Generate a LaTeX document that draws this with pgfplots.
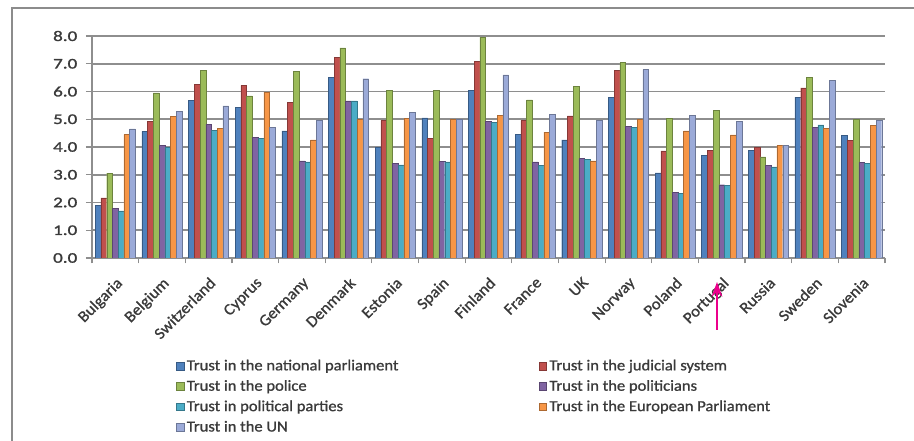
\documentclass[border=0pt]{standalone}
\usepackage{pgfplots}
\pgfplotsset{compat=1.18}
\usepackage{pgfplotstable}
\usepackage{fontspec}
\usetikzlibrary{arrows.meta}
\setmainfont{Carlito}
\newfontfamily\tickfont[FakeStretch=1.3,FakeBold=1.5]{Carlito}
\newfontfamily\labfont[FakeStretch=1.05,FakeBold=1]{Carlito}
\newfontfamily\legfont[FakeStretch=1.08,FakeBold=1]{Carlito}
\definecolor{c1}{HTML}{4F81BD}
\definecolor{c2}{HTML}{C0504D}
\definecolor{c3}{HTML}{9BBB59}
\definecolor{c4}{HTML}{8064A2}
\definecolor{c5}{HTML}{4BACC6}
\definecolor{c6}{HTML}{F79646}
\definecolor{c7}{HTML}{9BAAD8}
\definecolor{gridc}{HTML}{8E8E8E}
\definecolor{txt}{HTML}{3A3A3A}
\pgfplotstableread{
x  parl jud  pol  polit part ep   un
0  1.90 2.17 3.06 1.80 1.70 4.45 4.65
1  4.56 4.92 5.95 4.06 4.00 5.10 5.29
2  5.69 6.25 6.76 4.82 4.59 4.68 5.48
3  5.42 6.22 5.84 4.36 4.30 5.98 4.72
4  4.58 5.62 6.73 3.50 3.46 4.26 4.96
5  6.52 7.24 7.57 5.66 5.66 5.00 6.46
6  4.00 4.96 6.04 3.40 3.36 5.02 5.26
7  5.05 4.30 6.04 3.48 3.46 5.00 5.00
8  6.04 7.09 7.96 4.92 4.90 5.14 6.60
9  4.46 4.96 5.70 3.46 3.34 4.54 5.17
10 4.26 5.12 6.19 3.58 3.56 3.50 4.96
11 5.80 6.76 7.04 4.74 4.72 5.00 6.79
12 3.07 3.86 5.04 2.36 2.34 4.58 5.14
13 3.70 3.88 5.32 2.64 2.62 4.44 4.92
14 3.88 4.00 3.64 3.34 3.28 4.06 4.06
15 5.80 6.13 6.52 4.72 4.80 4.66 6.40
16 4.42 4.24 5.00 3.44 3.42 4.78 4.96
}\datatable
\begin{document}
\begin{tikzpicture}
\useasboundingbox (0pt,0pt) rectangle (685.5pt,-330.75pt);
% outer chart frame (left and top edges visible)
\draw[black!45, line width=1.2pt] (9pt,-340pt) -- (9pt,-6pt) -- (690pt,-6pt);
\begin{axis}[
  at={(69pt,-193.5pt)}, anchor=south west,
  scale only axis, width=594.75pt, height=166.5pt,
  ybar=0pt, bar width=4.3pt,
  xmin=-0.5, xmax=16.5, ymin=0, ymax=8,
  axis x line*=bottom, axis y line*=left,
  axis line style={gridc, line width=1.1pt},
  ymajorgrids, grid style={gridc, line width=1.4pt},
  ytick={0,1,...,8},
  /pgf/number format/fixed,
  /pgf/number format/fixed zerofill,
  /pgf/number format/precision=1,
  /pgf/number format/assume math mode=true,
  yticklabel style={font=\fontsize{11}{12}\tickfont, text=txt, xshift=-3pt},
  tick align=outside,
  ytick style={gridc, line width=0.9pt},
  major tick length=4.5pt,
  xtick={0,...,16},
  major x tick style={draw=none},
  minor xtick={-0.5,0.5,...,16.5},
  minor x tick style={gridc, line width=0.9pt},
  minor tick length=4pt,
  xticklabels={Bulgaria,Belgium,Switzerland,Cyprus,Germany,Denmark,Estonia,Spain,Finland,France,UK,Norway,Poland,Portugal,Russia,Sweden,Slovenia},
  xticklabel style={yshift=-7.5pt, rotate=45, anchor=north east, font=\fontsize{12}{14}\labfont, text=txt, inner sep=1pt},
  legend columns=2,
  legend cell align=left,
  legend style={at={(0.106,-0.445)}, anchor=north west, draw=none, fill=none,
    font=\fontsize{11.5}{13}\legfont, text=txt, row sep=1.8pt, inner sep=0pt},
  legend image code/.code={\fill[#1] (0pt,-2.8pt) rectangle (5.6pt,2.8pt);},
  every axis plot/.append style={line width=0.3pt},
]
\addplot[fill=c1, draw=c1!70!black] table[x=x, y=parl] {\datatable};
\addlegendentry{\makebox[262pt][l]{Trust in the national parliament}}
\addplot[fill=c2, draw=c2!70!black] table[x=x, y=jud] {\datatable};
\addlegendentry{Trust in the judicial system}
\addplot[fill=c3, draw=c3!70!black] table[x=x, y=pol] {\datatable};
\addlegendentry{Trust in the police}
\addplot[fill=c4, draw=c4!70!black] table[x=x, y=polit] {\datatable};
\addlegendentry{Trust in the politicians}
\addplot[fill=c5, draw=c5!70!black] table[x=x, y=part] {\datatable};
\addlegendentry{Trust in political parties}
\addplot[fill=c6, draw=c6!70!black] table[x=x, y=ep] {\datatable};
\addlegendentry{Trust in the European Parliament}
\addplot[fill=c7, draw=c7!70!black] table[x=x, y=un] {\datatable};
\addlegendentry{Trust in the UN}
\end{axis}
% magenta annotation arrow
\draw[magenta, line width=1.6pt, -{Stealth[length=11pt,width=8pt]}] (537.75pt,-247.5pt) -- (537.75pt,-211.5pt);
\end{tikzpicture}
\end{document}
